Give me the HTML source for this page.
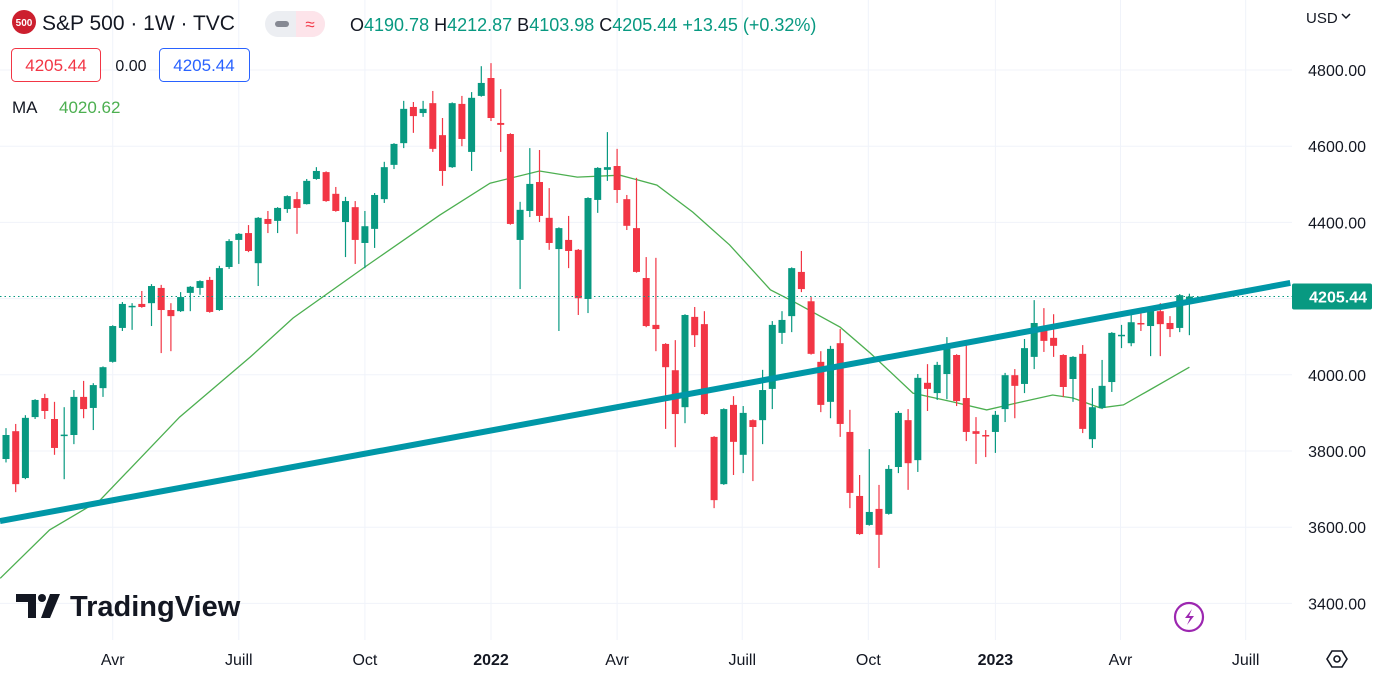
<!DOCTYPE html>
<html><head><meta charset="utf-8">
<style>
html,body{margin:0;padding:0;background:#fff;width:1374px;height:676px;overflow:hidden;font-family:"Liberation Sans",sans-serif;}
#wrap{position:relative;width:1374px;height:676px;}
svg{position:absolute;left:0;top:0;}
.t{font-family:"Liberation Sans",sans-serif;}
</style></head>
<body><div id="wrap">
<svg id="chart" width="1374" height="676"></svg>
</div>
<script>
const opens=[3779,3852,3729,3889,3939,3884,3840,3842,3942,3913,3965,4034,4123,4178,4186,4188,4228,4170,4167,4215,4228,4249,4170,4283,4354,4372,4293,4409,4404,4435,4461,4448,4514,4532,4475,4401,4440,4346,4383,4461,4551,4608,4703,4687,4713,4629,4545,4711,4585,4732,4779,4661,4632,4354,4430,4506,4412,4330,4354,4328,4199,4459,4538,4548,4461,4385,4254,4131,4081,4012,3915,4152,4133,3837,3713,3921,3790,3881,3881,3963,4110,4154,4270,4193,4034,3929,4083,3850,3682,3606,3648,3635,3758,3881,3776,3979,3952,4002,4052,3939,3852,3842,3850,3910,3999,3976,4047,4120,4097,4052,3989,4055,3831,3913,3981,4102,4083,4136,4128,4167,4136,4123,4190.78];
const highs=[3860,3871,3894,3936,3950,3929,3915,3960,3984,3978,4022,4130,4191,4188,4220,4238,4236,4188,4217,4233,4248,4257,4286,4356,4372,4393,4414,4430,4440,4471,4480,4514,4545,4534,4493,4467,4456,4430,4477,4559,4608,4719,4716,4719,4745,4674,4715,4732,4742,4810,4818,4750,4634,4454,4595,4590,4490,4387,4417,4330,4466,4545,4637,4593,4472,4517,4309,4307,4083,4091,4159,4178,4167,3839,3912,3944,3918,3883,4013,4141,4167,4282,4325,4204,4062,4076,4120,3908,3737,3805,3711,3763,3905,3910,4002,4028,4034,4099,4054,4078,3889,3855,3905,4005,4015,4094,4196,4175,4159,4054,4049,4078,3965,4039,4112,4131,4159,4167,4178,4188,4154,4212,4212.87];
const lows=[3770,3692,3726,3884,3884,3790,3726,3818,3886,3855,3942,4032,4115,4118,4176,4128,4057,4062,4165,4167,4210,4163,4168,4278,4291,4322,4233,4372,4372,4425,4370,4447,4512,4454,4428,4309,4291,4280,4333,4451,4540,4595,4635,4677,4585,4496,4543,4600,4535,4730,4666,4585,4394,4225,4414,4401,4328,4115,4280,4157,4162,4425,4509,4451,4380,4268,4125,4062,3858,3810,3873,4073,3895,3650,3711,3737,3742,3721,3818,3910,4081,4112,4217,4053,3902,3886,3837,3650,3580,3604,3493,3633,3742,3698,3745,3905,3934,3936,3918,3826,3766,3784,3795,3876,3886,3952,4015,4060,4047,3942,3929,3847,3808,3910,3955,4070,4075,4115,4049,4049,4099,4112,4103.98];
const closes=[3842,3713,3887,3934,3905,3808,3843,3942,3910,3973,4020,4128,4186,4181,4178,4233,4170,4154,4204,4231,4246,4165,4280,4351,4370,4325,4412,4396,4438,4469,4438,4509,4535,4456,4430,4456,4354,4390,4472,4545,4606,4698,4679,4698,4593,4535,4713,4619,4727,4766,4674,4656,4396,4433,4501,4417,4346,4385,4325,4201,4464,4543,4545,4485,4391,4270,4128,4120,4020,3897,4157,4104,3897,3671,3910,3824,3900,3863,3960,4131,4144,4280,4225,4055,3921,4068,3871,3690,3582,3640,3580,3753,3900,3768,3992,3963,4026,4075,3931,3850,3845,3839,3895,3999,3971,4070,4136,4089,4076,3968,4047,3858,3915,3971,4110,4105,4138,4133,4170,4133,4120,4209,4205.44];
const maIdx=[-0.6,4.5,9.7,17.9,25.2,29.6,37,44.7,49.9,55,58.9,63.3,67.1,70.8,74.6,78.8,81.5,86,89.1,93.5,97.6,101.1,104.2,107.9,110,112.8,115.2,117.9,122];
const maVal=[3466,3593,3671,3889,4047,4149,4283,4419,4503,4535,4519,4524,4498,4427,4341,4223,4188,4125,4057,3952,3929,3908,3926,3947,3939,3913,3921,3960,4020];
const trendIdx=[-0.62,132.4];
const trendVal=[3616,4241];
const priceTicks=[4800,4600,4400,4200,4000,3800,3600,3400];
const priceTickLabels=["4800.00","4600.00","4400.00",null,"4000.00","3800.00","3600.00","3400.00"];
const timeLabels=["Avr","Juill","Oct","2022","Avr","Juill","Oct","2023","Avr","Juill"];
const timeIdx=[11,24,37,50,63,75.9,88.9,102,114.9,127.8];
const lastPrice=4205.44;

const NS="http://www.w3.org/2000/svg";
const svg=document.getElementById('chart');
function xOf(i){return 6+9.7*i;}
function yOf(p){return 70+(4800-p)*0.381;}
function el(tag,attrs,parent){const e=document.createElementNS(NS,tag);for(const k in attrs)e.setAttribute(k,attrs[k]);(parent||svg).appendChild(e);return e;}
const G='#089981',R='#f23645';

// grid
const grid=el('g',{});


for(let k=0;k<priceTicks.length;k++){const y=yOf(priceTicks[k]);el('line',{x1:0,x2:1292,y1:y,y2:y,stroke:'#f0f3fa','stroke-width':1},grid);}
for(let k=3450;k<4800;k+=200){}
for(let k=0;k<timeIdx.length;k++){const x=xOf(timeIdx[k]);el('line',{x1:x,x2:x,y1:0,y2:640,stroke:'#f0f3fa','stroke-width':1},grid);}

// MA
let d='';for(let k=0;k<maIdx.length;k++){d+=(k?'L':'M')+xOf(maIdx[k]).toFixed(1)+','+yOf(maVal[k]).toFixed(1);}
const ma=el('path',{d:d,fill:'none',stroke:'#4caf50','stroke-width':1.3});



// candles
const cg=el('g',{});


for(let i=0;i<opens.length;i++){
  const up=closes[i]>=opens[i];const c=up?G:R;const x=xOf(i);
  const g=el('g',{},cg);
  
  
  el('line',{x1:x,x2:x,y1:yOf(highs[i]),y2:yOf(lows[i]),stroke:c,'stroke-width':1.2},g);
  const yt=yOf(Math.max(opens[i],closes[i])),yb=yOf(Math.min(opens[i],closes[i]));
  el('rect',{x:x-3.5,y:yt,width:7,height:Math.max(1.5,yb-yt),fill:c},g);
}

// trendline
const tl=el('line',{x1:xOf(trendIdx[0]),y1:yOf(trendVal[0]),x2:xOf(trendIdx[1]),y2:yOf(trendVal[1]),stroke:'#0097a7','stroke-width':6});



// last price line
const ly=yOf(lastPrice);
const lpl=el('line',{x1:0,x2:1292,y1:ly,y2:ly,stroke:G,'stroke-width':1,'stroke-dasharray':'1.5,3'});


const lb=el('rect',{x:1292,y:ly-13,width:80,height:26,rx:2,fill:G});


const lt=el('text',{x:1367,y:ly+6,'text-anchor':'end','font-size':16,fill:'#fff','font-weight':'bold',class:'t'});lt.textContent=lastPrice.toFixed(2);



// price axis labels
for(let k=0;k<priceTicks.length;k++){if(!priceTickLabels[k])continue;
  const t=el('text',{x:1366,y:yOf(priceTicks[k])+6,'text-anchor':'end','font-size':16,fill:'#131722',class:'t'});t.textContent=priceTickLabels[k];
  
  }
// time labels
for(let k=0;k<timeLabels.length;k++){
  const bold=/^\d/.test(timeLabels[k]);
  const t=el('text',{x:xOf(timeIdx[k]),y:665,'text-anchor':'middle','font-size':16,fill:'#131722','font-weight':bold?'bold':'normal',class:'t'});t.textContent=timeLabels[k];
  
  }
</script>
<svg width="1374" height="676" style="pointer-events:none">
<g><circle cx="24" cy="22" r="12" fill="#cc1f2e"/><text x="24" y="26" text-anchor="middle" font-size="10" fill="#fff" font-weight="bold" class="t">500</text></g>
<text x="42" y="30" font-size="21" fill="#131722" class="t">S&amp;P 500 · 1W · TVC</text>
<g><rect x="265" y="11" width="60" height="26" rx="13" fill="#eceef2"/><path d="M296 11h16a13 13 0 0 1 0 26h-16z" fill="#fde4ea"/><rect x="275" y="21" width="14" height="6" rx="3" fill="#868993"/><text x="310" y="30" text-anchor="middle" font-size="17" fill="#f23645" class="t">≈</text></g>
<text x="350" y="31" font-size="18" class="t"><tspan fill="#131722">O</tspan><tspan fill="#089981">4190.78 </tspan><tspan fill="#131722">H</tspan><tspan fill="#089981">4212.87 </tspan><tspan fill="#131722">B</tspan><tspan fill="#089981">4103.98 </tspan><tspan fill="#131722">C</tspan><tspan fill="#089981">4205.44 +13.45 (+0.32%)</tspan></text>
<g><rect x="11.5" y="48.5" width="89" height="33" rx="4" fill="#fff" stroke="#f23645"/><text x="56" y="71" text-anchor="middle" font-size="17" fill="#f23645" class="t">4205.44</text></g>
<text x="131" y="71" text-anchor="middle" font-size="16" fill="#131722" class="t">0.00</text>
<g><rect x="159.5" y="48.5" width="90" height="33" rx="4" fill="#fff" stroke="#2962ff"/><text x="204" y="71" text-anchor="middle" font-size="17" fill="#2962ff" class="t">4205.44</text></g>
<text x="12" y="113" font-size="17" fill="#131722" class="t">MA</text>
<text x="59" y="113" font-size="17" fill="#4caf50" class="t">4020.62</text>
<g><text x="1306" y="23" font-size="15" fill="#131722" class="t">USD</text><path d="M1342 14l4 4 4-4" fill="none" stroke="#131722" stroke-width="1.5"/></g>
<g><path d="M16 594h20v24h-8v-16h-12z" fill="#131722"/><circle cx="42" cy="598" r="4" fill="#131722"/><path d="M50 594h10l-10 24h-9z" fill="#131722"/><text x="70" y="616" font-size="29" font-weight="bold" fill="#131722" class="t">TradingView</text></g>
<g><circle cx="1189" cy="617" r="14" fill="#fff" stroke="#9c27b0" stroke-width="2.2"/><path d="M1192 609l-7 9h5l-3 7 7-9h-5z" fill="#9c27b0"/></g>
<g><path d="M1327 659l5-8h10l5 8-5 8h-10z" fill="none" stroke="#131722" stroke-width="1.6"/><circle cx="1337" cy="659" r="3" fill="none" stroke="#131722" stroke-width="1.6"/></g>
</svg>
</body></html>
